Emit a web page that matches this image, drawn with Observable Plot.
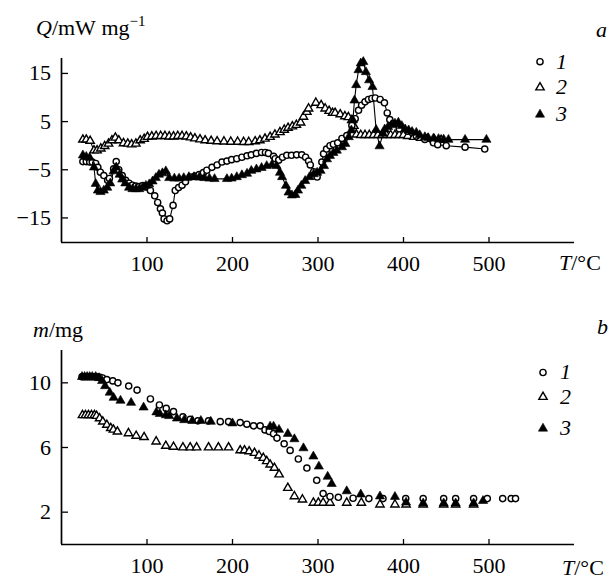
<!DOCTYPE html>
<html><head><meta charset="utf-8">
<script src="https://cdn.jsdelivr.net/npm/d3@7"></script>
<script src="https://cdn.jsdelivr.net/npm/@observablehq/plot@0.6"></script>
<style>
body{margin:0;background:#fff;}
#wrap{position:relative;width:611px;height:578px;font-family:"Liberation Serif",serif;color:#000;overflow:hidden;}
#wrap svg.plot{position:absolute;left:0;}
.lbl{position:absolute;font-size:22px;line-height:1;white-space:nowrap;font-family:"Liberation Serif",serif;}
.it{font-style:italic;}
sup{font-size:15px;vertical-align:0;position:relative;top:-9px;}
#legend{position:absolute;left:0;top:0;}
</style></head>
<body><div id="wrap"></div>
<script>
// ---------- data ----------
const xTicks = [100, 200, 300, 400, 500];
const qTicks = [-15, -5, 5, 15];
const mTicks = [2, 6, 10];

// panel a : DSC, Q / mW mg^-1 vs T / °C
const a1T = [25,29,33,36,40,42.5,45.5,49.5,54,56,61,64,67,71,75,79,83,87,91,95,99,104,109,112.5,115.7,118,120,123.5,126.5,130.5,133,137,141,145,150.7,156,161,166,170,176,182,187.7,193.5,199,205,211,217,222,228,234,238.5,242,248,250,254,258.5,263.5,269,275,281,285.5,289,291,295,299,304.5,306.5,310,314,318,323,328,333.7,339.6,343.5,347.4,351,355,359,363,367,372.7,377.7,381,384,388,395,405,415,425,435,440,450,472,495];
const a1Q = [-3.3,-3.3,-3.4,-3.4,-3.7,-4.5,-5.5,-6.2,-7.2,-6.8,-4.8,-3.3,-5,-6.2,-7.2,-7.8,-8.2,-8.4,-8.5,-8.3,-8.5,-9.3,-10.4,-11.8,-13.1,-14,-15.2,-15.6,-15.2,-12.4,-9.3,-8.7,-8.2,-7.5,-6.5,-6.3,-6,-5.6,-5.1,-4.5,-4,-3.4,-3.2,-2.9,-2.7,-2.4,-2.1,-1.9,-1.6,-1.4,-1.4,-1.6,-2.2,-2.7,-3,-2.4,-2,-2,-1.9,-1.9,-2.4,-3.2,-4,-5.4,-6.5,-3.4,-1.7,-0.7,0,0.3,0.6,1.5,2.1,4.2,5.6,7.35,8.4,9.1,9.6,9.8,9.9,9.6,8.9,6.8,5.4,4.6,3.5,3,2,1.3,0.6,0.2,0,-0.3,-0.7];

const a2T = [25,29,33.5,38,41.6,46,50.5,55,59,63,67,72.5,77.5,82,87,92,96.7,100.6,105.6,110.7,116,121,126,131,136,141,146,151,156,162,168,175,182,190,198,206,213,219,226.5,232,238,244,249.6,255.5,260.5,265,270,274.7,279.7,283,287,289,297.5,303.7,308.4,313,317,320,326,331.5,335.5,339.5,342,345,350,355,360,365,370,375,380,385,390,395,400,405,412,420,428,436,444];
const a2Q = [1.25,1.25,1.0,-1.0,-1.0,-0.6,-0.1,0.4,1.1,1.65,1.1,0.5,0.4,0.25,0.4,1.1,1.4,1.8,1.9,2.0,2.0,2.0,1.9,1.9,2.0,2.0,1.9,1.7,1.5,1.3,1.1,1.0,0.9,0.85,0.8,0.8,0.75,0.75,0.9,1.1,1.45,1.8,2.3,2.8,3.3,3.7,4.0,4.3,4.8,6.0,7.0,7.7,8.9,8.4,7.7,7.2,6.8,6.8,6.5,6.1,5.9,5.3,4.1,2.3,2.2,2.2,2.2,2.2,2.2,2.2,2.2,2.2,2.2,2.2,2.2,2.0,1.8,1.6,1.4,1.3,1.2];

const a3T = [25,29,33,38,40,42.5,45.6,49.5,53.5,57,61,64,68,71,74.6,79,83,87,91,95,98.7,102.6,106.5,110.3,114,118,122,126,132,137.5,143,149,155,161,167,173,179,193.5,199,205,211,217,222,228,234,240,246,251.5,255.5,258,262.5,265.6,269.5,273.5,276.6,280.5,285,290,295,299,303,307,310.5,314,318,322,328,332,336,339,340.8,342.7,344.7,347.4,350,353,356,359.8,363.7,368,372,376,378,382,386,390,394,398,402,406,410,415,419,425,429,435,441,447,452.6,472,497];
const a3Q = [-2.0,-2.3,-2.5,-4.5,-7.9,-9.3,-9.6,-9.3,-8.7,-7.8,-5.3,-4.5,-6,-7,-7.8,-8.7,-9.0,-9.0,-9.0,-8.7,-8.3,-8.0,-7.4,-6.7,-6.0,-5.7,-5.3,-6.7,-6.8,-6.8,-6.7,-6.5,-6.5,-6.6,-6.7,-6.8,-6.9,-6.9,-6.8,-6.5,-6.1,-5.8,-5.2,-4.9,-4.6,-4.2,-4.0,-4.2,-5.6,-6.5,-8.3,-9.7,-10.3,-10.2,-9.3,-8.3,-7.3,-6.5,-5.9,-5.6,-5.2,-4.2,-2.8,-2.1,-1.5,-1.0,-0.3,0.4,1.8,3.2,5.3,9.4,12.6,15.7,17.1,17.4,15.3,13.6,12.2,3.3,-0.1,2.5,3.4,3.9,4.3,4.6,4.8,4.1,3.4,3.2,2.9,2.7,2.2,1.8,1.6,1.5,1.4,1.3,1.25,1.25,1.25];

// panel b : TG, m / mg vs T / °C
const b1T = [24,27,30,33,36,39,42,45,48,53,60,66,78.6,88.4,104,114.5,122.5,131,142,150.6,159.5,172,185.7,195.4,209,216.8,224.6,232.4,238,243,248,252,260.4,267.4,277,287,298.5,306,314,323.8,341,359.5,376,402.6,423,447,461,482,498,516,526,531];
const b1m = [10.37,10.37,10.37,10.37,10.37,10.37,10.37,10.35,10.3,10.2,10.12,10.0,9.8,9.55,9.0,8.63,8.42,8.22,7.9,7.74,7.65,7.65,7.6,7.6,7.54,7.44,7.34,7.34,7.09,6.99,6.85,6.58,6.23,5.82,5.29,4.73,3.97,3.15,2.97,2.92,2.86,2.84,2.84,2.84,2.84,2.84,2.84,2.84,2.84,2.84,2.84,2.84];

const b2T = [24.5,28,31.5,35,38.5,41,44.5,48.3,53,57.6,60.7,65.4,78.3,87.3,96.6,110.7,122,131,142,150.5,158,172,183.5,195.4,209,214,219.5,225.7,231,236,240,244,249,254.5,264.7,272.4,281.8,294.6,300.4,306,314,333.6,350.7,372.5,390,403,423,447,461,482];
const b2m = [8.0,8.0,8.0,8.0,8.0,7.95,7.8,7.6,7.4,7.2,7.1,6.98,6.88,6.72,6.64,6.37,6.1,6.04,6.0,6.0,6.0,6.0,6.0,6.0,5.82,5.82,5.76,5.66,5.5,5.35,5.15,4.94,4.74,4.33,3.5,2.98,2.78,2.58,2.58,2.58,2.58,2.58,2.58,2.47,2.47,2.47,2.47,2.47,2.47,2.47];

const b3T = [24,27,30,33,36,40,44,47.5,51,56.4,61,69,81.4,96,111,115,122,126,135,143.5,153,163,174.6,200,244,248,254.4,264.7,272.4,283,294.6,301,311.3,316,333.6,350,372.5,390,403,423,447,461,482,493];
const b3m = [10.37,10.37,10.37,10.37,10.37,10.37,10.3,10.12,9.8,9.4,9.08,8.9,8.77,8.48,8.18,8.08,8.0,7.95,7.8,7.7,7.65,7.65,7.6,7.5,7.3,7.3,7.1,6.85,6.52,5.96,5.45,4.83,4.2,3.75,3.3,3.1,2.98,2.95,2.6,2.55,2.55,2.55,2.55,2.7];

// ---------- build ----------
const zip = (xs, ys) => xs.map((x, i) => ({T: x, v: ys[i]}));
const A1 = zip(a1T, a1Q), A2 = zip(a2T, a2Q), A3 = zip(a3T, a3Q);
const B1 = zip(b1T, b1m), B2 = zip(b2T, b2m), B3 = zip(b3T, b3m);

const FONT = '"Liberation Serif", serif';
const R = 3.1, SW = 1.4, RF = 3.4;
const openCircle = d => Plot.dot(d, {x: "T", y: "v", r: R, fill: "white", stroke: "black", strokeWidth: SW});
const openTri = d => Plot.dot(d, {x: "T", y: "v", symbol: "triangle", r: R, fill: "white", stroke: "black", strokeWidth: SW});
const fillTri = d => Plot.dot(d, {x: "T", y: "v", symbol: "triangle", r: RF, fill: "black", stroke: "black", strokeWidth: 0.6});
const conn = d => Plot.line(d, {x: "T", y: "v", stroke: "black", strokeWidth: 1.1});

function axes(ticksY, yMin) {
  return [
    Plot.ruleX([0], {stroke: "black", strokeWidth: 1.7}),
    Plot.ruleY([yMin], {stroke: "black", strokeWidth: 1.7}),
    Plot.axisX({ticks: xTicks, tickSize: -5, tickPadding: 18, tickFormat: d => String(d), label: null, fontSize: 22, fontFamily: FONT, strokeWidth: 1.3}),
    Plot.axisY({ticks: ticksY, tickSize: -7, tickPadding: 17.5, label: null, fontSize: 22, fontFamily: FONT, strokeWidth: 1.3})
  ];
}

const QMIN = -20.1, QMAX = 18.1;
const plotA = Plot.plot({
  width: 611, height: 290,
  marginLeft: 61, marginRight: 37, marginTop: 58, marginBottom: 48,
  style: {fontFamily: FONT, fontSize: "22px", background: "white", color: "black", overflow: "visible"},
  x: {domain: [0, 600]},
  y: {domain: [QMIN, QMAX]},
  marks: [
    ...axes(qTicks, QMIN),
    conn(A2), conn(A1), conn(A3),
    openTri(A2), openCircle(A1), fillTri(A3)
  ]
});
plotA.classList.add("plot");
plotA.style.top = "0px";

const plotB = Plot.plot({
  width: 611, height: 288,
  marginLeft: 61, marginRight: 37, marginTop: 60, marginBottom: 34,
  style: {fontFamily: FONT, fontSize: "22px", background: "white", color: "black", overflow: "visible"},
  x: {domain: [0, 600]},
  y: {domain: [0, 12]},
  marks: [
    ...axes(mTicks, 0),
    openTri(B2), openCircle(B1), fillTri(B3)
  ]
});
plotB.classList.add("plot");
plotB.style.top = "290px";

const wrap = document.getElementById("wrap");
wrap.appendChild(plotA);
wrap.appendChild(plotB);

// labels
function label(html, left, top) {
  const d = document.createElement("div");
  d.className = "lbl";
  d.innerHTML = html;
  d.style.left = left + "px";
  d.style.top = top + "px";
  wrap.appendChild(d);
}
label('<span class="it">Q</span>/mW&nbsp;mg<sup>−1</sup>', 36, 17);
label('<span class="it">a</span>', 596, 19);
label('<span class="it">T</span>/°C', 559, 252);
label('<span class="it">m</span>/mg', 33, 319);
label('<span class="it">b</span>', 597, 316);
label('<span class="it">T</span>/°C', 562, 556.5);
// legend numbers
const legNums = ["1", "2", "3"];
const legA = [61.7, 87.5, 114.5], legB = [372.5, 397, 428.5];
legNums.forEach((n, i) => {
  label('<span class="it">' + n + '</span>', 556, legA[i] - 11.2);
  label('<span class="it">' + n + '</span>', 560, legB[i] - 11.2);
});
// legend symbols
const ns = "http://www.w3.org/2000/svg";
const lg = document.createElementNS(ns, "svg");
lg.setAttribute("id", "legend");
lg.setAttribute("width", 611); lg.setAttribute("height", 578);
function sym(kind, cx, cy) {
  let el;
  if (kind === "c") {
    el = document.createElementNS(ns, "circle");
    el.setAttribute("cx", cx); el.setAttribute("cy", cy); el.setAttribute("r", R);
    el.setAttribute("fill", "white"); el.setAttribute("stroke", "black"); el.setAttribute("stroke-width", SW);
  } else {
    const s = Math.sqrt(Math.PI * (kind === "f" ? RF : R) ** 2 * 4 / Math.sqrt(3));
    const h = s * Math.sqrt(3) / 2;
    el = document.createElementNS(ns, "polygon");
    el.setAttribute("points", `${cx},${cy - 2 * h / 3} ${cx + s / 2},${cy + h / 3} ${cx - s / 2},${cy + h / 3}`);
    el.setAttribute("fill", kind === "f" ? "black" : "white");
    el.setAttribute("stroke", "black"); el.setAttribute("stroke-width", kind === "f" ? 0.6 : SW);
  }
  lg.appendChild(el);
}
["c", "o", "f"].forEach((k, i) => { sym(k, 540, legA[i]); sym(k, 543, legB[i]); });
wrap.appendChild(lg);
</script>
</body></html>
